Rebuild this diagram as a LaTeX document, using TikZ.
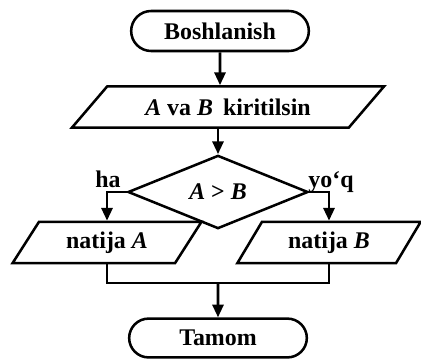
\documentclass[tikz,border=0pt]{standalone}
\usepackage{fontspec}
\setmainfont{Liberation Serif}
\usetikzlibrary{positioning,shapes.geometric,shapes.misc,arrows.meta}

\tikzset{
  every node/.style={font=\fontsize{17}{19}\selectfont\bfseries},
  term/.style={draw, line width=1.8pt, rounded rectangle, minimum width=4.675cm, minimum height=1cm},
  io/.style={draw, line width=1.8pt, trapezium, trapezium stretches body, minimum height=1.03cm, inner sep=2pt},
  cond/.style={draw, line width=1.8pt, diamond, minimum width=4.5cm, minimum height=1.45cm, inner sep=0pt},
  lbl/.style={inner sep=0pt},
  arr/.style={line width=1.8pt, -{Triangle[length=3.2mm,width=2.8mm]}}
}

\begin{document}
\begin{tikzpicture}[x=0.025cm, y=-0.025cm]
    \useasboundingbox (0,0) rectangle (421,358);

    \node [term] (start) at (220,31) {Boshlanish};
    \node [io, trapezium left angle=32.5, trapezium right angle=147.5, minimum width=7.8cm] (inp) at (228,107) {\textit{A} va \textit{B}\, kiritilsin};
    \node [cond] (test) at (218,192) {\textit{A} > \textit{B}};
    \node [io, trapezium left angle=46, trapezium right angle=134, minimum width=4.72cm] (outa) at (107,242.5) {natija \textit{A}};
    \node [io, trapezium left angle=48, trapezium right angle=132, minimum width=4.58cm] (outb) at (329,242.5) {natija \textit{B}};
    \node [term, minimum height=0.97cm] (stop) at (218,338) {Tamom};
    \coordinate (join) at (218,283);

    \node [lbl, anchor=base] (ha) at (108,187) {ha};
    \node [lbl, anchor=base] (yoq) at (331,187) {yo‘q};

    \draw [arr] (start) -- (start |- inp.north);
    \draw [arr] (test.north |- inp.south) -- (test.north);
    \draw [arr] (test.west) -| (outa.north);
    \draw [arr] (test.east) -| (outb.north);
    \draw [line width=1.8pt] (outa.south) |- (join) -| (outb.south);
    \draw [arr] (join) -- (stop);
\end{tikzpicture}
\end{document}
